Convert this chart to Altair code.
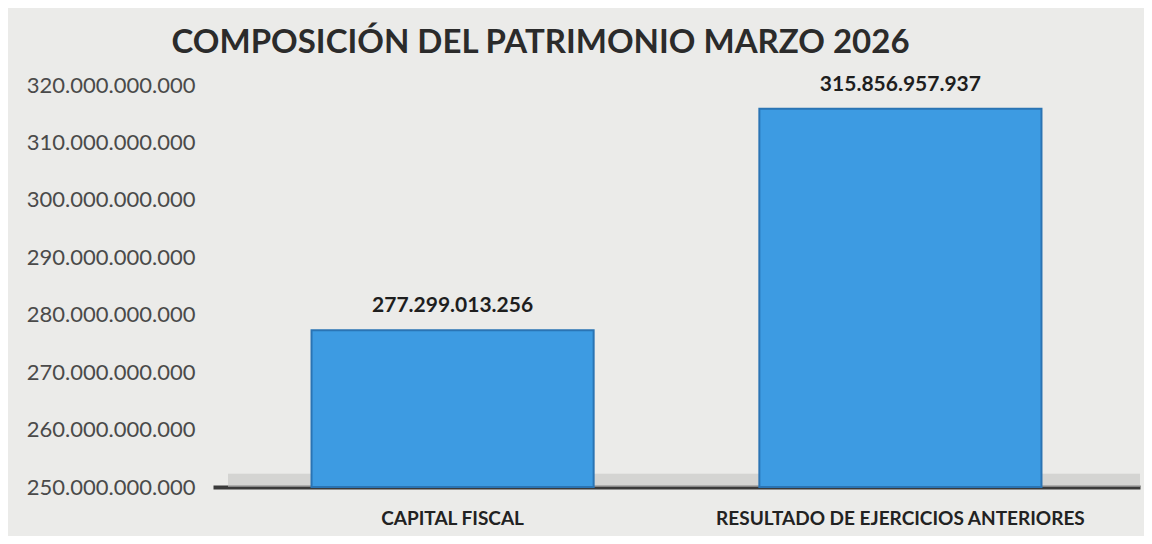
import altair as alt
import pandas as pd

categories = ["CAPITAL FISCAL", "RESULTADO DE EJERCICIOS ANTERIORES"]
values = [277299013256, 315856957937]
y_ticks = [250e9, 260e9, 270e9, 280e9, 290e9, 300e9, 310e9, 320e9]
base_value = 250e9
title_text = "COMPOSICIÓN DEL PATRIMONIO MARZO 2026"

df = pd.DataFrame({
    "cat": categories,
    "val": values,
    "base": [base_value] * len(values),
    "label": [f"{v:,}".replace(",", ".") for v in values],
})

FONT = "Lato"
W, H = 927, 402

yscale = alt.Scale(domain=[250e9, 320e9], nice=False, zero=False)
xscale = alt.Scale(paddingInner=0.37, paddingOuter=0.22)

dot_expr = "replace(replace(replace(replace(format(datum.value, ',d'), ',', '.'), ',', '.'), ',', '.'), ',', '.')"

base = alt.Chart(df)

floor = base.mark_rect(color="#c4c4c4", opacity=0.35).encode(
    x=alt.value(15), x2=alt.value(W),
    y=alt.Y("base:Q", scale=yscale), y2=alt.datum(252.3e9),
)

bars = base.mark_bar(color="#3d9be2", stroke="#2a74b4", strokeWidth=2).encode(
    x=alt.X("cat:N", sort=categories, scale=xscale, title=None,
            axis=alt.Axis(labelAngle=0, labelFont=FONT, labelFontSize=19, labelFontWeight="bold",
                          labelColor="#222222", ticks=False, labelPadding=22, labelLimit=0,
                          domain=True, domainColor="#3a3a3a", domainWidth=4)),
    y=alt.Y("val:Q", scale=yscale, title=None,
            axis=alt.Axis(values=y_ticks, labelExpr=dot_expr, labelFont=FONT, labelFontSize=22,
                          labelColor="#4a4a4a", ticks=False, domain=False, grid=False,
                          labelPadding=18, labelLimit=0)),
    y2="base:Q",
)

text = base.mark_text(font=FONT, fontSize=21, fontWeight="bold", color="#1e1e1e",
                      baseline="bottom", dy=-14).encode(
    x=alt.X("cat:N", sort=categories, scale=xscale),
    y=alt.Y("val:Q", scale=yscale),
    text="label:N",
)

chart = alt.layer(floor, bars, text).properties(
    width=W, height=H,
    autosize=alt.AutoSizeParams(type="none"),
    padding={"left": 205, "top": 77, "right": 4, "bottom": 49},
    background="#ebebe9",
    title=alt.TitleParams(title_text, font=FONT, fontSize=33, fontWeight="bold",
                          color="#2b2b2b", anchor="middle", dx=-136, offset=14),
).configure_view(stroke=None)

chart.save("out.html", embed_options={"renderer": "svg", "actions": False})
